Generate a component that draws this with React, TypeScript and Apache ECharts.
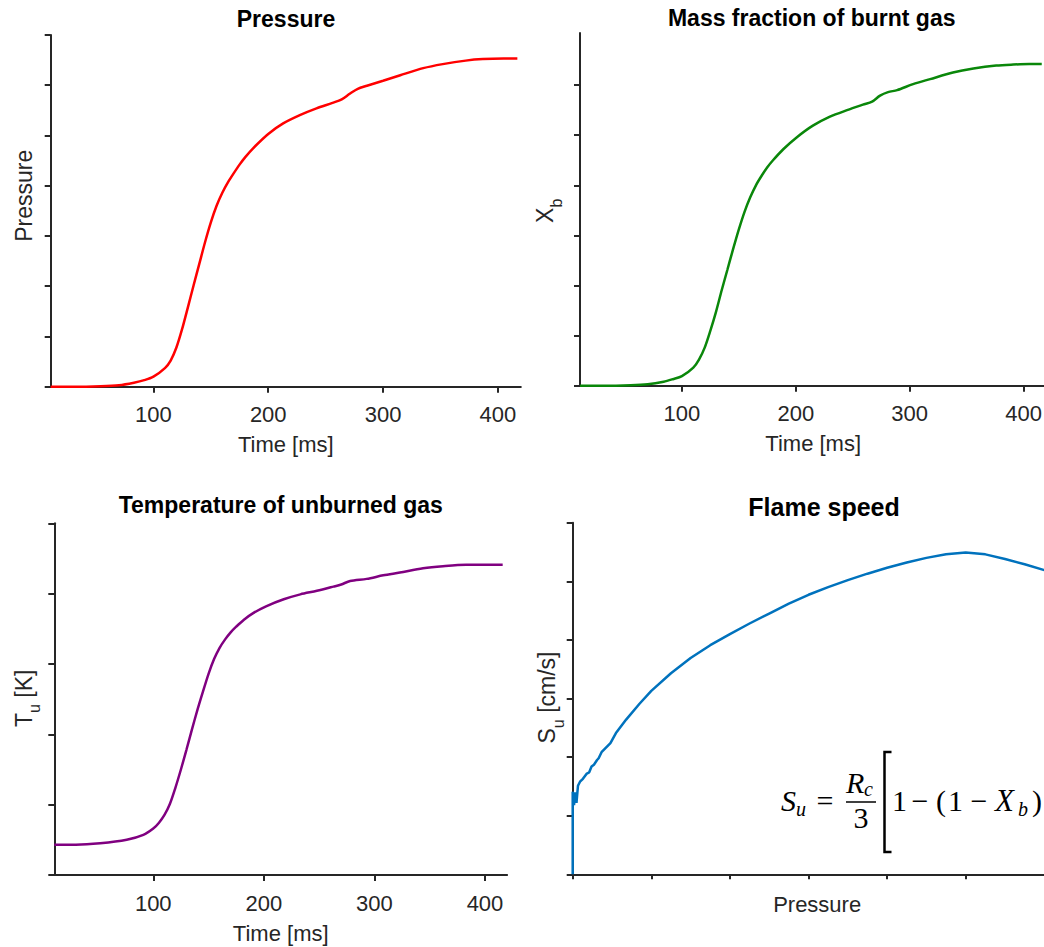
import React, { useEffect, useRef } from "react";
import * as echarts from "echarts";

// ---- data ----
const timeTicks = [100, 200, 300, 400];

const pressureTime = [10.5, 30, 54, 70, 83, 92, 100, 110, 115, 120, 125, 130, 135, 140, 145, 150, 155, 160, 165, 170, 175, 180, 187, 200, 213, 228, 242, 256, 264, 271, 278, 286, 300, 315, 335, 352, 372, 387, 405, 417];
const pressureValue = [0, 0, 0.01, 0.03, 0.08, 0.13, 0.2, 0.37, 0.52, 0.78, 1.15, 1.58, 2.02, 2.45, 2.88, 3.27, 3.6, 3.86, 4.07, 4.25, 4.42, 4.57, 4.75, 5.03, 5.24, 5.41, 5.54, 5.65, 5.72, 5.83, 5.93, 5.99, 6.09, 6.2, 6.34, 6.42, 6.49, 6.52, 6.53, 6.53];

const xbTime = [10.5, 30, 55, 70, 84, 92, 100, 110, 115, 120, 125, 130, 135, 140, 145, 150, 155, 160, 165, 170, 175, 180, 189, 201, 215, 230, 245, 259, 267, 274, 281, 289, 303, 318, 338, 356, 376, 391, 405, 416];
const xbValue = [0, 0, 0.01, 0.03, 0.08, 0.13, 0.19, 0.36, 0.52, 0.76, 1.1, 1.48, 1.91, 2.32, 2.73, 3.12, 3.47, 3.76, 4.0, 4.19, 4.36, 4.5, 4.72, 4.96, 5.19, 5.37, 5.5, 5.61, 5.67, 5.79, 5.86, 5.9, 6.02, 6.12, 6.25, 6.33, 6.39, 6.41, 6.42, 6.42];

const tuTime = [10.5, 30, 52, 76, 91, 100, 105, 110, 115, 120, 125, 130, 135, 140, 145, 150, 155, 160, 165, 170, 175, 182, 190, 202, 218, 233, 248, 263, 270, 278, 293, 308, 323, 344, 362, 383, 400, 416];
const tuValue = [0.43, 0.43, 0.45, 0.5, 0.57, 0.66, 0.74, 0.85, 1.01, 1.24, 1.5, 1.78, 2.07, 2.35, 2.61, 2.86, 3.07, 3.23, 3.35, 3.45, 3.53, 3.63, 3.72, 3.82, 3.92, 3.99, 4.04, 4.1, 4.13, 4.18, 4.21, 4.26, 4.3, 4.36, 4.39, 4.41, 4.41, 4.41];

const flamePressure = [0, 0, 0.017, 0.03, 0.048, 0.067, 0.093, 0.13, 0.18, 0.21, 0.24, 0.27, 0.31, 0.33, 0.37, 0.48, 0.55, 0.68, 0.85, 1.0, 1.25, 1.5, 1.75, 2.0, 2.25, 2.5, 2.75, 3.0, 3.25, 3.5, 3.75, 4.0, 4.25, 4.5, 4.75, 5.0, 5.25, 5.5, 5.75, 6.0];
const flameSpeed = [0, 1.41, 1.18, 1.4, 1.22, 1.51, 1.58, 1.63, 1.72, 1.74, 1.84, 1.87, 1.95, 1.98, 2.09, 2.24, 2.41, 2.64, 2.91, 3.13, 3.43, 3.69, 3.91, 4.1, 4.28, 4.45, 4.62, 4.77, 4.9, 5.02, 5.13, 5.23, 5.32, 5.4, 5.46, 5.49, 5.46, 5.38, 5.29, 5.19];

const ticks7 = [0, 1, 2, 3, 4, 5, 6, 7];
const ticks6 = [0, 1, 2, 3, 4, 5, 6];
const ticks5 = [0, 1, 2, 3, 4, 5];

const AXIS = "#262626";
const SANS = "'Liberation Sans', Arial, sans-serif";
const SERIF = "'Liberation Serif', 'Times New Roman', serif";

const pairs = (xs: number[], ys: number[]) => xs.map((x, i) => [x, ys[i]]);

function timeAxis(gridIndex: number) {
  return {
    type: "value",
    gridIndex,
    min: 10.5,
    max: 420,
    axisLine: { show: true, onZero: false, lineStyle: { color: AXIS, width: 2 } },
    axisTick: { show: true, inside: false, length: 6, lineStyle: { color: AXIS, width: 2 }, customValues: timeTicks },
    axisLabel: { show: true, customValues: timeTicks, color: AXIS, fontSize: 22, fontFamily: SANS, margin: 17 },
    splitLine: { show: false },
    name: "Time [ms]",
    nameLocation: "middle",
    nameGap: 47,
    nameTextStyle: { color: AXIS, fontSize: 22, fontFamily: SANS },
  };
}

function valueAxis(gridIndex: number, max: number, tickVals: number[]) {
  return {
    type: "value",
    gridIndex,
    min: 0,
    max,
    axisLine: { show: true, onZero: false, lineStyle: { color: AXIS, width: 2 } },
    axisTick: { show: true, inside: false, length: 6, lineStyle: { color: AXIS, width: 2 }, customValues: tickVals },
    axisLabel: { show: false, customValues: tickVals },
    splitLine: { show: false },
  };
}

function title(text: string, x: number, y: number, size: number) {
  return {
    type: "text",
    x,
    y,
    style: {
      text,
      fill: "#000",
      font: `bold ${size}px ${SANS}`,
      align: "center",
      verticalAlign: "middle",
      textAlign: "center",
      textVerticalAlign: "middle",
    },
  };
}

function yName(text: string, x: number, y: number) {
  return {
    type: "text",
    x,
    y,
    rotation: Math.PI / 2,
    style: {
      text,
      fill: AXIS,
      font: `23px ${SANS}`,
      align: "center",
      verticalAlign: "middle",
      textAlign: "center",
      textVerticalAlign: "middle",
      rich: {
        m: { fontSize: 23, fontFamily: SANS, fill: AXIS },
        s: { fontSize: 16, fontFamily: SANS, fill: AXIS, padding: [22, 0, 0, 0] },
      },
    },
  };
}

function math(text: string, x: number, baseline: number, size: number, italic: boolean, align = "left") {
  const cy = baseline - 0.34 * size;
  return {
    type: "text",
    x,
    y: cy,
    style: {
      text,
      fill: "#000",
      font: `${italic ? "italic " : ""}${size}px ${SERIF}`,
      align,
      verticalAlign: "middle",
      textAlign: align,
      textVerticalAlign: "middle",
    },
  };
}

export default function App() {
  const ref = useRef<HTMLDivElement>(null);

  useEffect(() => {
    const chart = echarts.init(ref.current!, null, { renderer: "svg" });
    const smoothLine = (xi: number, xs: number[], ys: number[], color: string) => ({
      type: "line",
      xAxisIndex: xi,
      yAxisIndex: xi,
      data: pairs(xs, ys),
      showSymbol: false,
      smooth: 0.3,
      lineStyle: { color, width: 2.5 },
      itemStyle: { color },
    });
    const option: any = {
      animation: false,
      backgroundColor: "#fff",
      grid: [
        { left: 50.7, top: 35, width: 470.1, height: 351.7 },
        { left: 580, top: 33, width: 466.3, height: 352.7 },
        { left: 54.3, top: 523.3, width: 452.8, height: 351.7 },
        { left: 572.7, top: 522.7, width: 488.9, height: 351.6 },
      ],
      xAxis: [
        timeAxis(0),
        timeAxis(1),
        timeAxis(2),
        {
          type: "value",
          gridIndex: 3,
          min: 0,
          max: 6.22,
          axisLine: { show: true, onZero: false, lineStyle: { color: AXIS, width: 2 } },
          axisTick: { show: true, inside: false, length: 5, lineStyle: { color: AXIS, width: 2 }, customValues: ticks6 },
          axisLabel: { show: false, customValues: ticks6 },
          splitLine: { show: false },
          name: "Pressure",
          nameLocation: "middle",
          nameGap: 19,
          nameTextStyle: { color: AXIS, fontSize: 22, fontFamily: SANS },
        },
      ],
      yAxis: [
        valueAxis(0, 7, ticks7),
        valueAxis(1, 7.04, ticks6),
        valueAxis(2, 5, ticks5),
        valueAxis(3, 6, ticks6),
      ],
      series: [
        smoothLine(0, pressureTime, pressureValue, "#ff0000"),
        smoothLine(1, xbTime, xbValue, "#0a870a"),
        smoothLine(2, tuTime, tuValue, "#800080"),
        {
          type: "line",
          xAxisIndex: 3,
          yAxisIndex: 3,
          data: pairs(flamePressure, flameSpeed),
          showSymbol: false,
          lineStyle: { color: "#0072bd", width: 2.5 },
          itemStyle: { color: "#0072bd" },
        },
      ],
      graphic: [
        title("Pressure", 286, 18.6, 23),
        title("Mass fraction of burnt gas", 811.7, 17.5, 23),
        title("Temperature of unburned gas", 280.8, 505.3, 23),
        title("Flame speed", 824, 506.5, 25),
        yName("Pressure", 23.6, 195.8),
        yName("{m|X}{s|b}", 545.3, 210.8),
        yName("{m|T}{s|u}{m| [K]}", 23.6, 698.3),
        yName("{m|S}{s|u}{m| [cm/s]}", 547, 697.5),
        // formula
        math("S", 781, 811, 30, true),
        math("u", 796, 816, 20, true),
        math("=", 825, 811, 30, false, "center"),
        math("R", 846, 793, 30, true),
        math("c", 864, 795.5, 20, true),
        {
          type: "line",
          shape: { x1: 846, y1: 802, x2: 876, y2: 802 },
          style: { stroke: "#000", lineWidth: 1.5 },
        },
        math("3", 861, 828, 30, false, "center"),
        {
          type: "polyline",
          shape: { points: [[891.5, 752], [884.5, 752], [884.5, 852], [891.5, 852]] },
          style: { stroke: "#000", lineWidth: 2.5, fill: null },
        },
        math("1", 892, 811, 30, false),
        math("\u2212", 920, 811, 30, false, "center"),
        math("(", 936, 811, 30, false),
        math("1", 948, 811, 30, false),
        math("\u2212", 979, 811, 30, false, "center"),
        math("X", 995, 811, 31, true),
        math("b", 1018, 816, 20, true),
        math(")", 1032, 811, 30, false),
      ],
    };
    chart.setOption(option);
    return () => chart.dispose();
  }, []);

  return (
    <div
      ref={ref}
      style={{ position: "fixed", left: 0, top: 0, width: 1100, height: 947, background: "#fff" }}
    />
  );
}
